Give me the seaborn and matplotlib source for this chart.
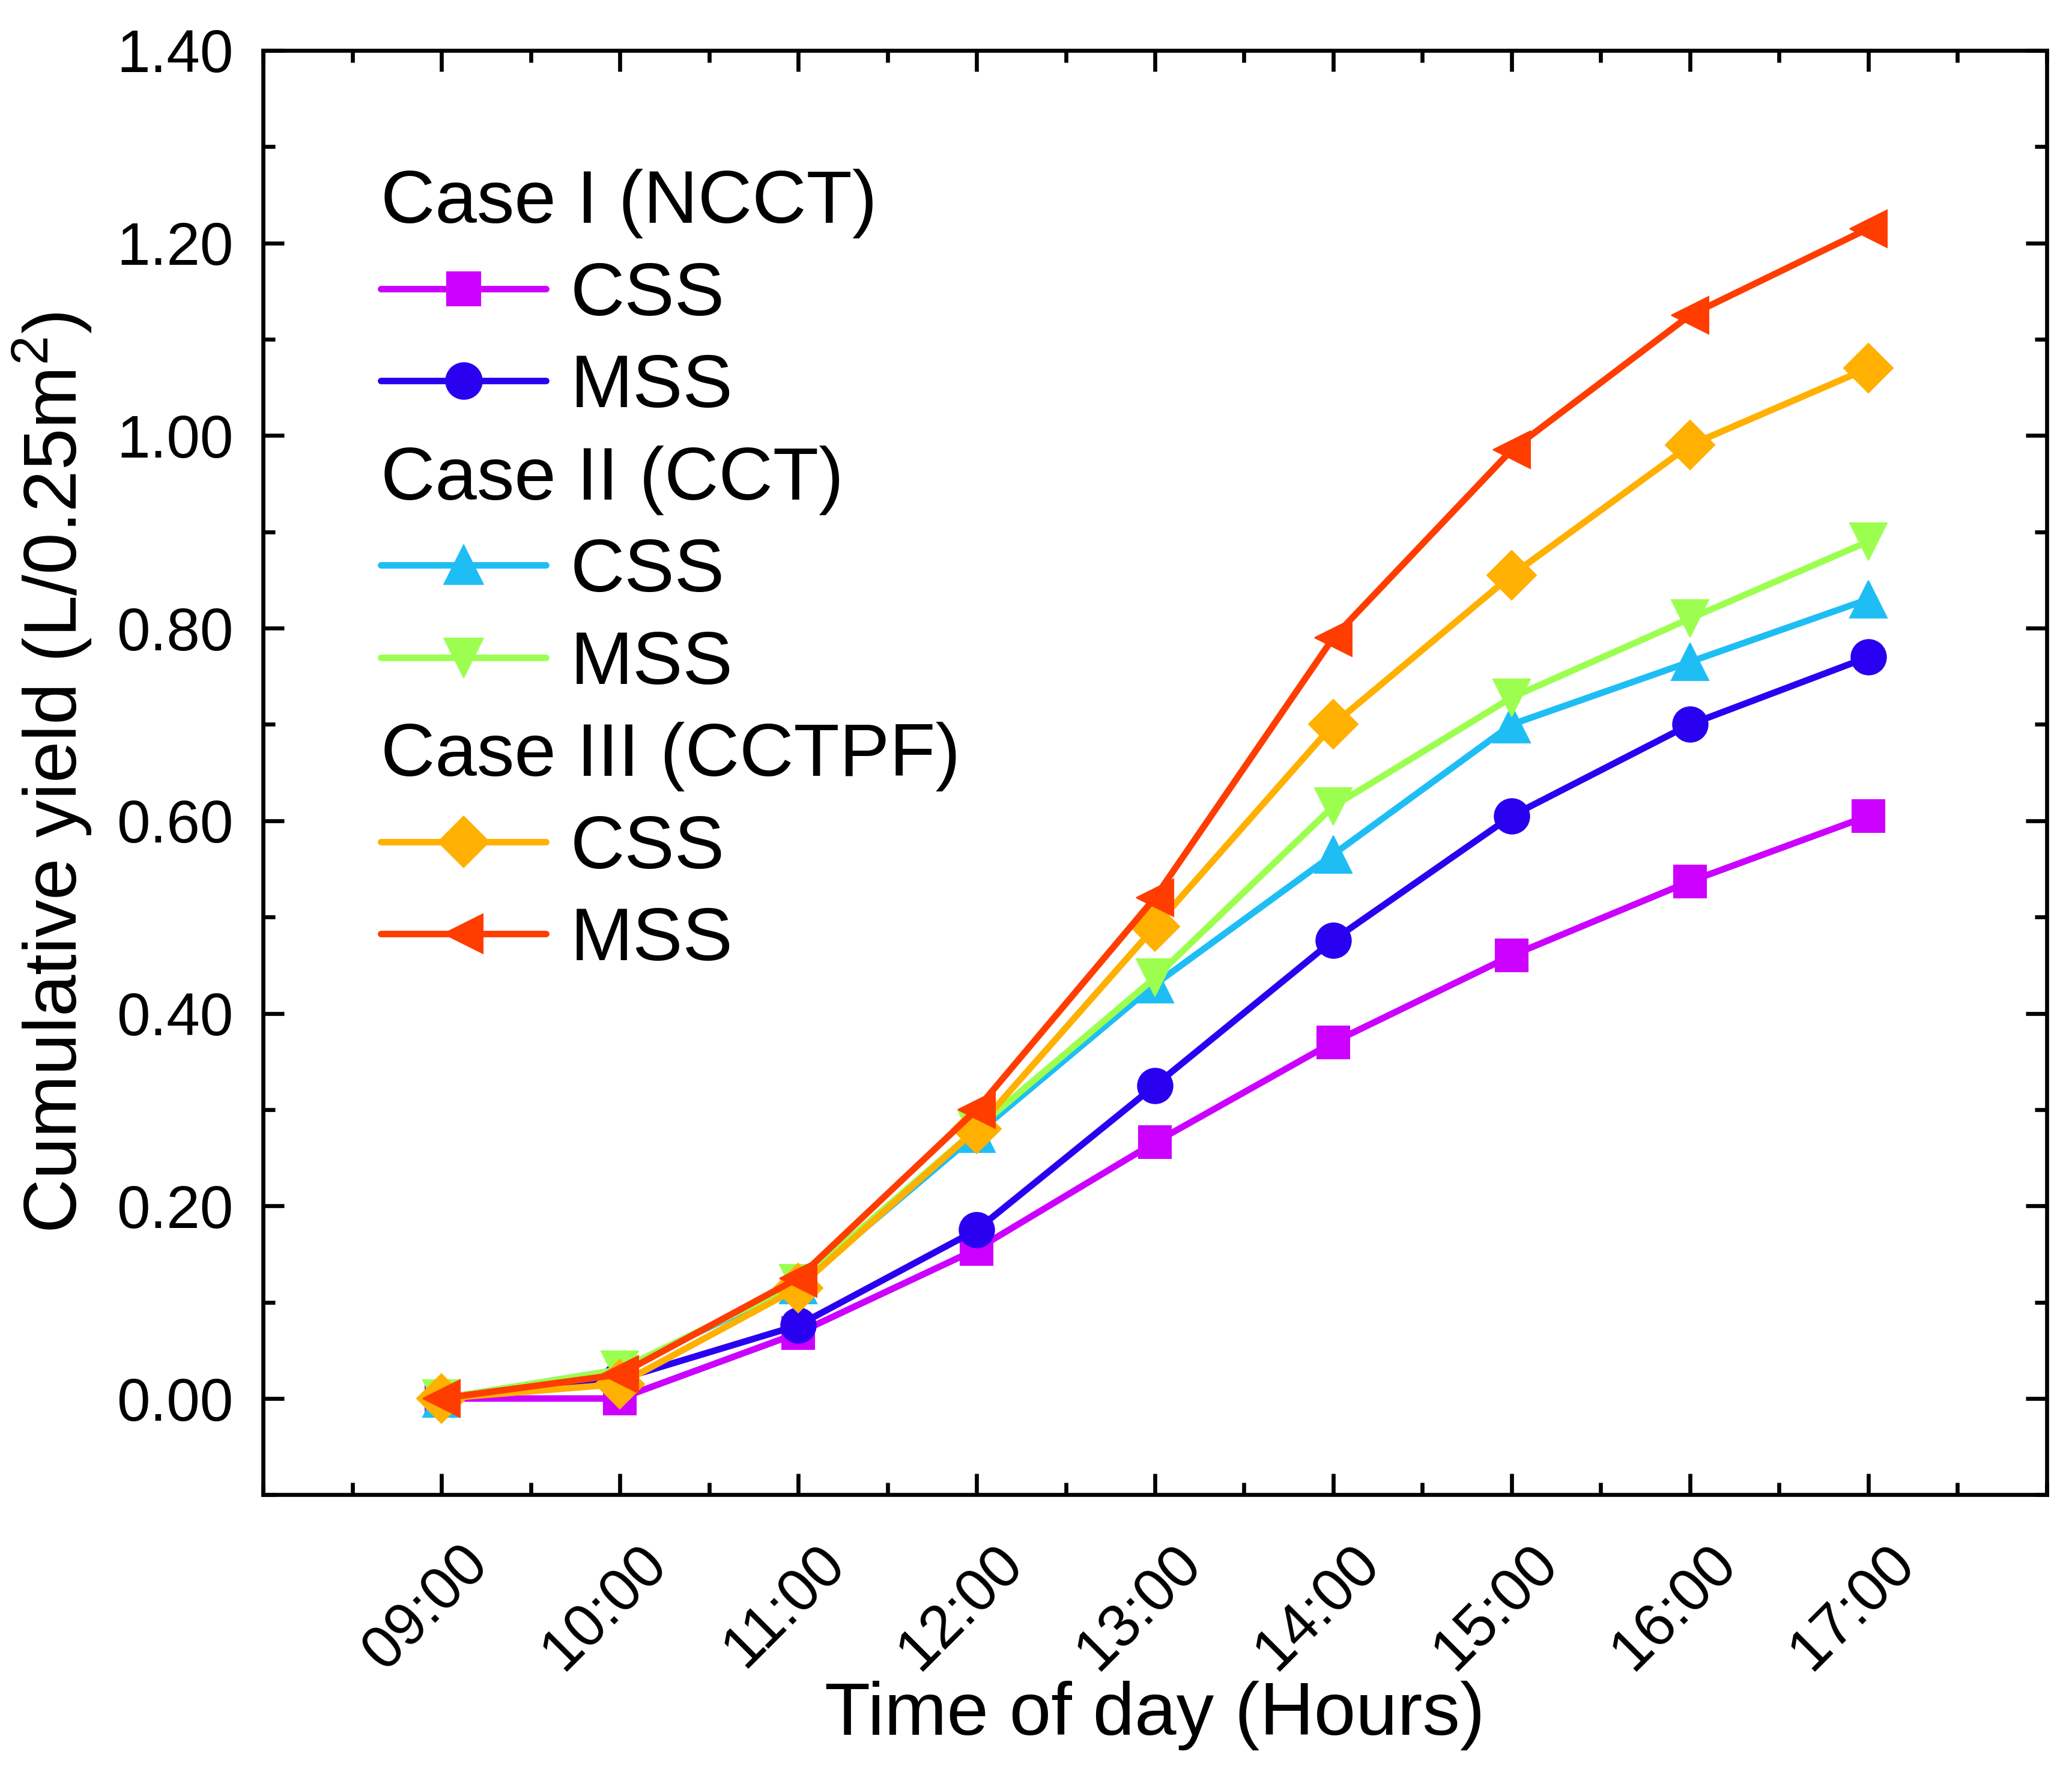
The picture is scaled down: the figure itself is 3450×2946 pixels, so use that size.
import numpy as np
import pandas as pd
import matplotlib
matplotlib.use("Agg")
import matplotlib.pyplot as plt
import matplotlib.transforms as mtransforms
from matplotlib.lines import Line2D
from matplotlib.ticker import MultipleLocator, FormatStrFormatter
import seaborn as sns

hours = [9, 10, 11, 12, 13, 14, 15, 16, 17]
hour_labels = ["09:00", "10:00", "11:00", "12:00", "13:00", "14:00", "15:00", "16:00", "17:00"]

css_case1 = [0.0, 0.0, 0.068, 0.155, 0.266, 0.37, 0.46, 0.537, 0.605]
mss_case1 = [0.0, 0.02, 0.076, 0.175, 0.325, 0.476, 0.605, 0.70, 0.77]
css_case2 = [0.0, 0.03, 0.118, 0.275, 0.43, 0.565, 0.70, 0.765, 0.83]
mss_case2 = [0.0, 0.03, 0.12, 0.28, 0.437, 0.615, 0.728, 0.81, 0.89]
css_case3 = [0.0, 0.015, 0.115, 0.28, 0.49, 0.70, 0.855, 0.99, 1.07]
mss_case3 = [0.0, 0.025, 0.125, 0.30, 0.52, 0.79, 0.985, 1.125, 1.215]

series_names = ["CSS", "MSS", "CSS", "MSS", "CSS", "MSS"]
case_headers = ["Case I (NCCT)", "Case II (CCT)", "Case III (CCTPF)"]

sns.set_theme(style="ticks")
plt.rcParams['font.family'] = ['Liberation Sans', 'DejaVu Sans']
plt.rcParams['mathtext.fontset'] = 'custom'
plt.rcParams['mathtext.rm'] = 'Liberation Sans'
plt.rcParams['text.color'] = 'black'
plt.rcParams['axes.labelcolor'] = 'black'
plt.rcParams['xtick.color'] = 'black'
plt.rcParams['ytick.color'] = 'black'

fig = plt.figure(figsize=(11.503, 9.82), dpi=300)
ax = fig.add_axes([0.127, 0.155, 0.8605, 0.8165])

data = [css_case1, mss_case1, css_case2, mss_case2, css_case3, mss_case3]
colors = ["#CC00FF", "#2A00F0", "#1EBEF5", "#9CFF50", "#FFB000", "#FF3D00"]
markers = ["s", "o", "^", "v", "D", "<"]
msizes = [13, 14, 15, 15, 14, 15]
lw = 2.6

handles = []
for vals, c, m, ms, nm in zip(data, colors, markers, msizes, series_names):
    df = pd.DataFrame({"hour": hours, "y": vals})
    sns.lineplot(data=df, x="hour", y="y", ax=ax, color=c, marker=m,
                 markersize=ms, markeredgecolor=c, markeredgewidth=0.5,
                 linewidth=lw, legend=False)
    handles.append(Line2D([], [], color=c, marker=m, markersize=ms,
                          markeredgecolor=c, linewidth=lw))

blank = Line2D([], [], linestyle="none", marker=None)
leg_handles = [blank, handles[0], handles[1], blank, handles[2], handles[3], blank, handles[4], handles[5]]
leg_labels = [case_headers[0], series_names[0], series_names[1],
              case_headers[1], series_names[2], series_names[3],
              case_headers[2], series_names[4], series_names[5]]
leg = ax.legend(leg_handles, leg_labels, loc="upper left", bbox_to_anchor=(0.066, 0.918),
                frameon=False, fontsize=30, handlelength=2.2, handletextpad=0.32,
                labelspacing=0.30, borderpad=0, borderaxespad=0)
header_idx = {0, 3, 6}
try:
    rows = leg._legend_handle_box.get_children()[0].get_children()
    for i, hp in enumerate(rows):
        if i in header_idx:
            da, ta = hp.get_children()
            da.set_width(0)
            hp.sep = 0
except Exception:
    pass

ax.set_xlim(8, 18)
ax.set_ylim(-0.1, 1.4)
ax.set_xticks(hours)
ax.set_xticklabels(hour_labels, rotation=45, ha="right", rotation_mode="anchor")
ax.xaxis.set_minor_locator(MultipleLocator(0.5))
ax.set_yticks(np.arange(0, 1.41, 0.2))
ax.yaxis.set_major_formatter(FormatStrFormatter("%.2f"))
ax.yaxis.set_minor_locator(MultipleLocator(0.1))

ax.tick_params(which="both", direction="in", top=True, right=True, width=1.6, colors="black")
ax.tick_params(which="major", length=8.5, labelsize=24)
ax.tick_params(which="minor", length=4.8)
ax.tick_params(axis="y", which="major", pad=12)
ax.tick_params(axis="x", which="major", pad=16)

offset = mtransforms.ScaledTranslation(7 / 72, 0, fig.dpi_scale_trans)
for lbl in ax.get_xticklabels():
    lbl.set_transform(lbl.get_transform() + offset)

for s in ax.spines.values():
    s.set_linewidth(1.6)
    s.set_color("black")
    s.set_visible(True)

ax.set_xlabel("Time of day (Hours)", fontsize=30, labelpad=0)
ax.set_ylabel("Cumulative yield (L/0.25m$^2$)", fontsize=30, labelpad=9)

fig.savefig("out.png", dpi=300, facecolor="white")
